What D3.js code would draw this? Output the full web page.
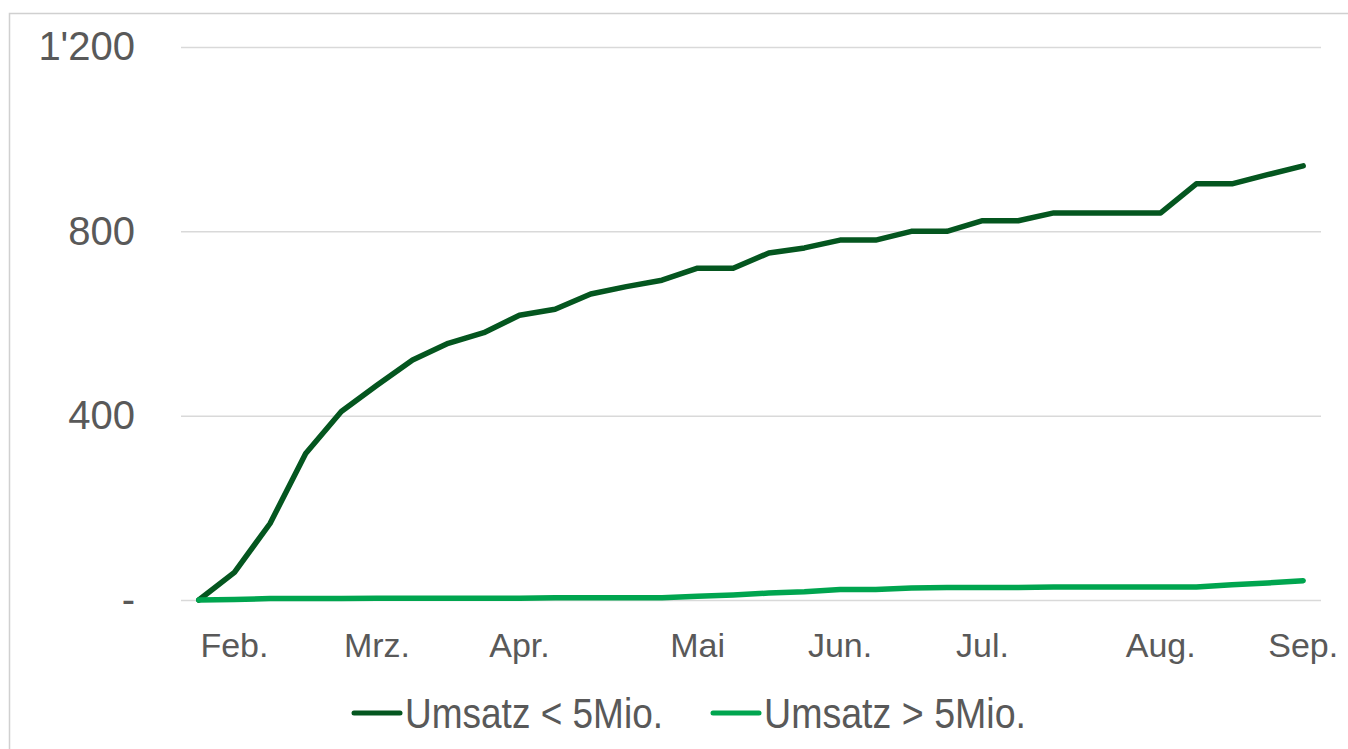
<!DOCTYPE html>
<html>
<head>
<meta charset="utf-8">
<script src="https://cdn.jsdelivr.net/npm/d3@7"></script>
<style>
  body { margin: 0; background: #fff; }
  text { font-family: "Liberation Sans", Arial, sans-serif; fill: #595959; }
</style>
</head>
<body>
<div id="chart"></div>
<script>
// weekly points, labelled only at the month starts
var weeks = d3.range(32);
var monthLabels = ["", "Feb.", "", "", "", "Mrz.", "", "", "", "Apr.", "", "", "", "", "Mai", "", "", "",
  "Jun.", "", "", "", "Jul.", "", "", "", "", "Aug.", "", "", "", "Sep."];
var umsatzKlein = [0, 60, 166, 318, 409, 466, 521, 557, 580, 618, 631, 664, 680, 694, 720, 720,
  753, 764, 781, 781, 800, 800, 823, 823, 840, 840, 840, 840, 903, 903, 923, 942];
var umsatzGross = [0, 1, 3, 3, 3, 4, 4, 4, 4, 4, 5, 5, 5, 5, 8, 11,
  15, 18, 23, 23, 26, 27, 27, 27, 28, 28, 28, 28, 28, 33, 37, 42];
var yTicks = [0, 400, 800, 1200];
var seriesNames = ["Umsatz < 5Mio.", "Umsatz > 5Mio."];
var colors = ["#04561f", "#00a54f"];

var width = 1348, height = 749;
var plotLeft = 181, plotRight = 1321, plotTop = 47, plotBottom = 600;

var svg = d3.select("#chart").append("svg").attr("width", width).attr("height", height);

// outer chart border
svg.append("rect").attr("x", 9.5).attr("y", 13.5).attr("width", 1400).attr("height", 800)
  .attr("fill", "none").attr("stroke", "#d0d0d0").attr("stroke-width", 1.5);

var x = d3.scaleBand().domain(weeks).range([plotLeft, plotRight]);
var y = d3.scaleLinear().domain([0, 1200]).range([plotBottom, plotTop]);

var swiss = d3.formatLocale({decimal: ".", thousands: "'", grouping: [3], currency: ["", ""]});
var fmt = swiss.format(",");

var yaxis = d3.axisLeft(y).tickValues(yTicks).tickSize(-(plotRight - plotLeft)).tickPadding(46)
  .tickFormat(function(d){ return d === 0 ? "-" : fmt(d); });
var gy = svg.append("g").attr("transform", "translate(" + plotLeft + ",0)").call(yaxis);
gy.select(".domain").remove();
gy.selectAll(".tick line").attr("stroke", "#d9d9d9").attr("stroke-width", 1.5);
gy.selectAll(".tick text").attr("font-size", 40).attr("fill", "#595959")
  .style("font-family", "'Liberation Sans', Arial, sans-serif");

var xaxis = d3.axisBottom(x).tickSize(0).tickPadding(33)
  .tickFormat(function(d){ return monthLabels[d]; });
var gx = svg.append("g").attr("transform", "translate(0," + plotBottom + ")").call(xaxis);
gx.select(".domain").remove();
gx.selectAll(".tick text").attr("font-size", 34).attr("fill", "#595959")
  .style("font-family", "'Liberation Sans', Arial, sans-serif");

var line = d3.line()
  .x(function(d, i){ return x(weeks[i]) + x.bandwidth() / 2; })
  .y(function(d){ return y(d); });

[umsatzKlein, umsatzGross].forEach(function(s, i){
  svg.append("path").datum(s).attr("d", line)
    .attr("fill", "none").attr("stroke", colors[i]).attr("stroke-width", 5.5)
    .attr("stroke-linejoin", "round").attr("stroke-linecap", "round");
});

// legend (narrow font in the original, squeeze to fit)
var legend = svg.append("g").attr("class", "legend");
var legX = [352, 711];
var legW = [258, 262];
seriesNames.forEach(function(name, i){
  legend.append("line").attr("x1", legX[i] + 2).attr("x2", legX[i] + 48)
    .attr("y1", 713).attr("y2", 713).attr("stroke", colors[i]).attr("stroke-width", 5)
    .attr("stroke-linecap", "round");
  legend.append("text").attr("x", legX[i] + 53).attr("y", 728)
    .attr("font-size", 42).attr("textLength", legW[i]).attr("lengthAdjust", "spacingAndGlyphs")
    .text(name);
});
</script>
</body>
</html>
